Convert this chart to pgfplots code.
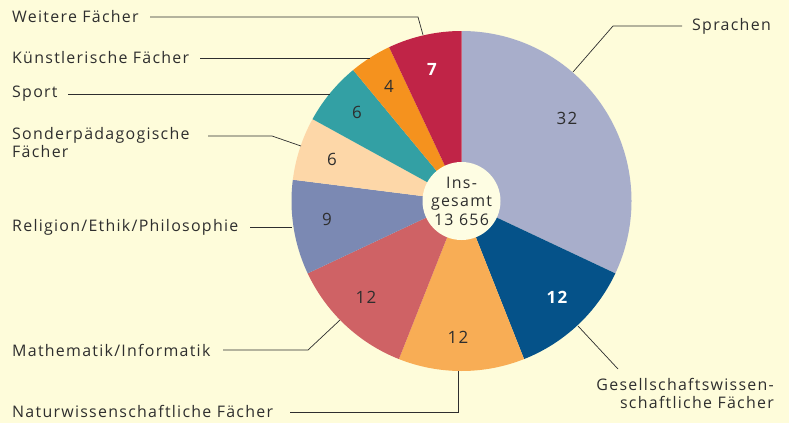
\documentclass[border=0pt]{standalone}
\usepackage{fontspec}
\setmainfont{Open Sans}[LetterSpace=8]
\usepackage{pgfplots}
\pgfplotsset{compat=1.18}

\definecolor{bg}{HTML}{FEFCDA}
\definecolor{txt}{HTML}{2E2E2E}
\definecolor{cSpr}{HTML}{A8AECB}
\definecolor{cGes}{HTML}{055289}
\definecolor{cNat}{HTML}{F8AD55}
\definecolor{cMat}{HTML}{CF6265}
\definecolor{cRel}{HTML}{7B89B3}
\definecolor{cSon}{HTML}{FDD7A8}
\definecolor{cSpo}{HTML}{33A0A4}
\definecolor{cKun}{HTML}{F5921E}
\definecolor{cWei}{HTML}{C02447}

\newcommand\lf{\fontsize{16}{18.5}\selectfont}
\newcommand\nf{\fontsize{17}{19}\selectfont}

% pie centre and radius, in pixels of the reference
\def\cx{461.5}
\def\cy{201}
\def\R{170}
\def\cum{90}
% one slice: value (percent), colour; clockwise from the top
\newcommand\slice[2]{%
  \pgfmathsetmacro\endang{\cum-3.6*#1}%
  \edef\tmp{\noexpand\fill[#2] (axis cs:\cx,\cy) -- ++(\cum:\R bp)
    arc[start angle=\cum,end angle=\endang,radius=\R bp] -- cycle;}\tmp
  \xdef\cum{\endang}}

\begin{document}
\begin{tikzpicture}[every node/.style={font=\lf, text=txt}]
\begin{axis}[
    x=1bp, y=1bp,
    xmin=0, xmax=789, ymin=0, ymax=423,
    y dir=reverse,
    hide axis, clip=false,
]
\fill[bg] (axis cs:0,0) rectangle (axis cs:789,423);

\slice{32}{cSpr}
\slice{12}{cGes}
\slice{12}{cNat}
\slice{12}{cMat}
\slice{9}{cRel}
\slice{6}{cSon}
\slice{6}{cSpo}
\slice{4}{cKun}
\slice{7}{cWei}

\fill[bg!75!white] (axis cs:\cx,\cy) circle[radius=39bp];
\node[align=center, inner sep=0pt] at (axis cs:\cx,201) {Ins-\\gesamt\\13 656};

% values in the slices
\node[font=\nf] at (axis cs:567,118) {32};
\node[text=white, font=\nf\bfseries] at (axis cs:557,297) {12};
\node[font=\nf] at (axis cs:458,337) {12};
\node[font=\nf] at (axis cs:366,297) {12};
\node[font=\nf] at (axis cs:327,219) {9};
\node[font=\nf] at (axis cs:332,159) {6};
\node[font=\nf] at (axis cs:357,112) {6};
\node[font=\nf] at (axis cs:389,86) {4};
\node[text=white, font=\nf\bfseries] at (axis cs:432,69) {7};

% leader lines
\begin{scope}[txt, line width=0.7bp]
\draw (axis cs:150,17) -- (axis cs:418,17) -- (axis cs:423,35);
\draw (axis cs:200,58) -- (axis cs:370,58);
\draw (axis cs:68,94) -- (axis cs:330,94);
\draw (axis cs:208,136) -- (axis cs:272,136) -- (axis cs:301,146);
\draw (axis cs:250,227) -- (axis cs:292,227);
\draw (axis cs:223,350) -- (axis cs:308,350) -- (axis cs:340,320);
\draw (axis cs:290,412) -- (axis cs:458,412) -- (axis cs:458,371);
\draw (axis cs:578,326) -- (axis cs:618,369);
\draw (axis cs:573,72) -- (axis cs:613,26) -- (axis cs:682,26);
\end{scope}

% category labels
\node[anchor=west, inner sep=0pt] at (axis cs:12,17) {Weitere Fächer};
\node[anchor=west, inner sep=0pt] at (axis cs:12,58) {Künstlerische Fächer};
\node[anchor=west, inner sep=0pt] at (axis cs:12,94) {Sport};
\node[anchor=north west, align=left, inner sep=0pt] at (axis cs:12,127) {Sonderpädagogische\\Fächer};
\node[anchor=west, inner sep=0pt] at (axis cs:12,227) {Religion/Ethik/Philosophie};
\node[anchor=west, inner sep=0pt] at (axis cs:12,350) {Mathematik/Informatik};
\node[anchor=west, inner sep=0pt] at (axis cs:12,411) {Naturwissenschaftliche Fächer};
\node[anchor=west, inner sep=0pt] at (axis cs:692,26) {Sprachen};
\node[anchor=north east, align=right, inner sep=0pt] at (axis cs:774,378) {Gesellschaftswissen-\\schaftliche Fächer};
\end{axis}
\end{tikzpicture}
\end{document}
